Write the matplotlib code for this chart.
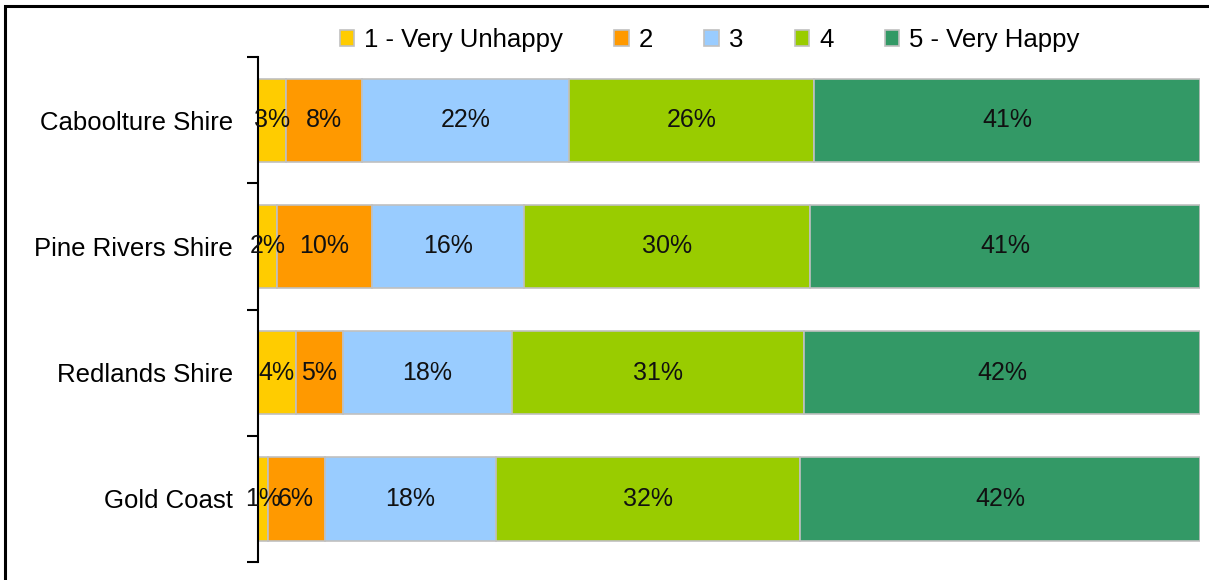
import numpy as np
import matplotlib.pyplot as plt
from matplotlib.patches import Rectangle

plt.rcParams['font.family'] = ['Liberation Sans', 'DejaVu Sans']

regions = ['Caboolture Shire', 'Pine Rivers Shire', 'Redlands Shire', 'Gold Coast']
levels = ['1 - Very Unhappy', '2', '3', '4', '5 - Very Happy']
colors = ['#FFCC00', '#FF9900', '#99CCFF', '#99CC00', '#339966']

very_unhappy = [3, 2, 4, 1]
level_2 = [8, 10, 5, 6]
level_3 = [22, 16, 18, 18]
level_4 = [26, 30, 31, 32]
very_happy = [41, 41, 42, 42]

values = np.array([very_unhappy, level_2, level_3, level_4, very_happy], dtype=float)
shares = values / values.sum(axis=0)  # 100% stacked

fig = plt.figure(figsize=(12.09, 5.80), dpi=100)
ax = fig.add_axes([0.2134, 0.031, 0.7792, 0.8706])

y = np.arange(len(regions))
left = np.zeros(len(regions))
for i, name in enumerate(levels):
    bars = ax.barh(y, shares[i], left=left, height=0.66, color=colors[i],
                   edgecolor='#C0C0C0', linewidth=1.2, label=name)
    ax.bar_label(bars, labels=[f'{int(v)}%' for v in values[i]],
                 label_type='center', fontsize=18, color='#111111')
    left += shares[i]

ax.set_xlim(0, 1)
ax.set_ylim(len(regions) - 0.5, -0.5)
ax.set_yticks(y)
ax.set_yticklabels(regions, fontsize=18.5)
ax.set_yticks(np.arange(len(regions) + 1) - 0.5, minor=True)
ax.tick_params(axis='y', which='major', length=0, pad=18)
ax.tick_params(axis='y', which='minor', length=8, width=1.5, direction='out')
ax.set_xticks([])
for side in ['top', 'right', 'bottom']:
    ax.spines[side].set_visible(False)
ax.spines['left'].set_linewidth(1.5)

fig.legend(loc='center', bbox_to_anchor=(0.587, 0.931), ncol=5, frameon=False,
           fontsize=18.5, handlelength=0.55, handleheight=0.55, handletextpad=0.4,
           columnspacing=2.0)

# outer chart frame (right and bottom fall outside the picture)
fig.patches.append(Rectangle((0.0045, -0.05), 1.1, 1.04, transform=fig.transFigure,
                             fill=False, edgecolor='black', linewidth=2.2))

fig.savefig('out.png', dpi=100)
